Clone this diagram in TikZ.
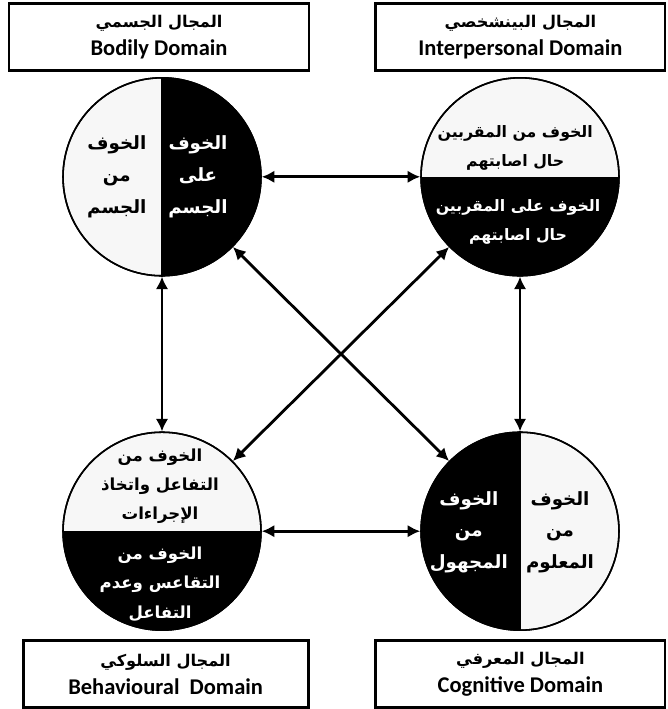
\documentclass[tikz,border=0pt]{standalone}
\usepackage{fontspec}
\setmainfont{Carlito}
\newfontfamily\arabicfont[Script=Arabic]{DejaVu Sans}
\TeXXeTstate=1
\usetikzlibrary{arrows.meta, positioning}
\newcommand{\rtl}[1]{\beginR #1\endR}
\definecolor{paper}{gray}{0.97}

\begin{document}
\begin{tikzpicture}[domcircle/.style={circle, draw, fill=paper, line width=1.1pt, minimum size=4.95cm, inner sep=0pt},
  darkright/.style={path picture={\fill[black] (path picture bounding box.north) rectangle (path picture bounding box.south east);}},
  darkleft/.style={path picture={\fill[black] (path picture bounding box.north) rectangle (path picture bounding box.south west);}},
  darkbottom/.style={path picture={\fill[black] (path picture bounding box.west) rectangle (path picture bounding box.south east);}},
  fear/.style={font=\arabicfont\bfseries\fontsize{13}{22.5}\selectfont, align=center, inner sep=0pt},
  fearsmall/.style={fear, font=\arabicfont\bfseries\fontsize{11.8}{20.8}\selectfont},
  white/.style={text=white},
  dombox/.style={draw, line width=2pt, minimum height=1.66cm, align=center, font=\bfseries\fontsize{16}{20}\selectfont},
  conn/.style={{Latex[length=9pt,width=9pt]}-{Latex[length=9pt,width=9pt]}, line width=2pt}]
  \useasboundingbox (0,0) rectangle (16.675,-17.725);

  % the four domains
  \node[domcircle, darkright] (bodily) at (4.05,-4.42) {};
  \node[domcircle, darkbottom] (inter) at (13.0,-4.42) {};
  \node[domcircle, darkbottom] (behav) at (4.05,-13.28) {};
  \node[domcircle, darkleft] (cogn) at (13.0,-13.28) {};
  \draw[line width=1.1pt] (bodily.north) -- (bodily.south);
  \draw[line width=1.1pt] (cogn.north) -- (cogn.south);
  \foreach \n in {bodily, inter, behav, cogn}
    \draw[line width=1.1pt] (\n) circle (2.475cm);

  \node[fear] (bodilyfrom) at (2.92,-4.42) {\rtl{الخوف}\\ \rtl{من}\\ \rtl{الجسم}};
  \node[fear, white] (bodilyfor) at (4.95,-4.42) {\rtl{الخوف}\\ \rtl{على}\\ \rtl{الجسم}};
  \node[fearsmall, font=\arabicfont\bfseries\fontsize{11.2}{20.8}\selectfont] (interfrom) at (12.88,-3.7) {\rtl{الخوف من المقربين}\\ \rtl{حال اصابتهم}};
  \node[fearsmall, white, font=\arabicfont\bfseries\fontsize{11.2}{20.8}\selectfont] (interfor) at (12.95,-5.55) {\rtl{الخوف على المقربين}\\ \rtl{حال اصابتهم}};
  \node[fearsmall] (behavact) at (4.0,-12.15) {\rtl{الخوف من}\\ \rtl{التفاعل واتخاذ}\\ \rtl{الإجراءات}};
  \node[fearsmall, white] (behavidle) at (4.0,-14.6) {\rtl{الخوف من}\\ \rtl{التقاعس وعدم}\\ \rtl{التفاعل}};
  \node[fear, white] (cognunknown) at (11.72,-13.3) {\rtl{الخوف}\\ \rtl{من}\\ \rtl{المجهول}};
  \node[fear] (cognknown) at (14.0,-13.3) {\rtl{الخوف}\\ \rtl{من}\\ \rtl{المعلوم}};

  % domain titles
  \node[dombox, minimum width=7.5cm] (bodilybox) at (3.975,-0.925) {{\arabicfont\fontsize{11.5}{14}\selectfont\rtl{المجال الجسمي}}\\ Bodily Domain};
  \node[dombox, minimum width=7.225cm] (interbox) at (13.01,-0.925) {{\arabicfont\fontsize{11.5}{14}\selectfont\rtl{المجال البينشخصي}}\\ Interpersonal Domain};
  \node[dombox, minimum width=7.125cm] (behavbox) at (4.14,-16.85) {{\arabicfont\fontsize{11.5}{14}\selectfont\rtl{المجال السلوكي}}\\ Behavioural\ \ Domain};
  \node[dombox, minimum width=7.225cm] (cognbox) at (13.01,-16.85) {{\arabicfont\fontsize{11.5}{14}\selectfont\rtl{المجال المعرفي}}\\ Cognitive Domain};

  % links
  \draw[conn] (bodily) -- (inter);
  \draw[conn] (behav) -- (cogn);
  \draw[conn] (bodily) -- (behav);
  \draw[conn] (inter) -- (cogn);
  \draw[conn] (bodily) -- (cogn);
  \draw[conn] (inter) -- (behav);
\end{tikzpicture}
\end{document}
